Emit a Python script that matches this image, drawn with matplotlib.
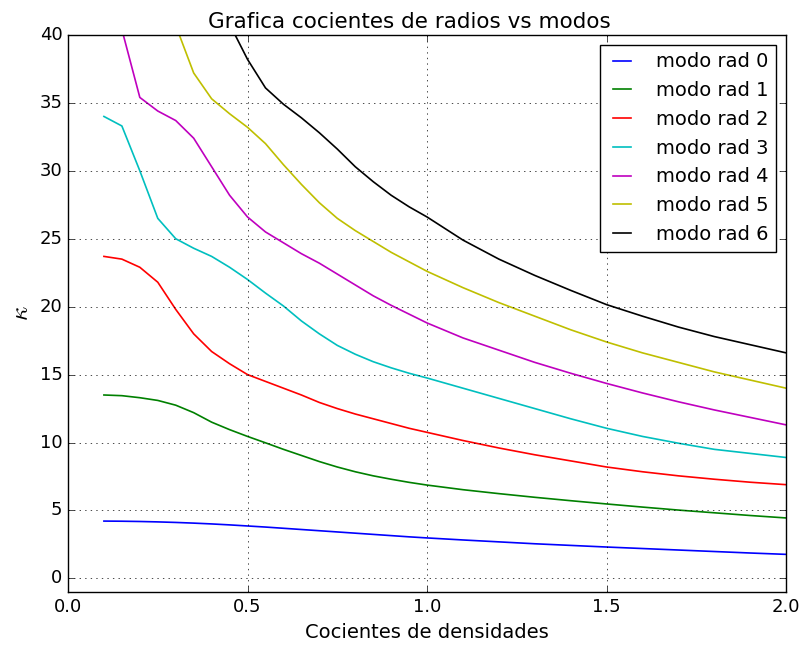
import numpy as np
import matplotlib
matplotlib.use("Agg")
import matplotlib.pyplot as plt

plt.style.use("classic")

# densidad relativa (eje x), comun a todos los modos
cocientes = [0.10, 0.15, 0.20, 0.25, 0.30, 0.35, 0.40, 0.45, 0.50, 0.55,
             0.60, 0.65, 0.70, 0.75, 0.80, 0.85, 0.90, 0.95, 1.00,
             1.10, 1.20, 1.30, 1.40, 1.50, 1.60, 1.70, 1.80, 1.90, 2.00]

nan = np.nan
modo0 = [4.22, 4.21, 4.19, 4.16, 4.12, 4.07, 4.01, 3.94, 3.86, 3.78,
         3.69, 3.60, 3.51, 3.42, 3.33, 3.24, 3.15, 3.06, 2.98,
         2.83, 2.69, 2.55, 2.43, 2.31, 2.20, 2.09, 1.98, 1.87, 1.77]
modo1 = [13.5, 13.45, 13.3, 13.1, 12.75, 12.2, 11.5, 10.95, 10.45, 9.98,
         9.5, 9.05, 8.6, 8.2, 7.85, 7.55, 7.3, 7.07, 6.87,
         6.53, 6.24, 5.97, 5.72, 5.48, 5.25, 5.03, 4.83, 4.63, 4.45]
modo2 = [23.7, 23.5, 22.9, 21.8, 19.8, 18.0, 16.7, 15.8, 15.0, 14.5,
         14.0, 13.5, 12.95, 12.5, 12.1, 11.75, 11.4, 11.05, 10.75,
         10.15, 9.6, 9.1, 8.65, 8.2, 7.85, 7.55, 7.3, 7.08, 6.9]
modo3 = [34.0, 33.3, 30.0, 26.5, 25.0, 24.3, 23.7, 22.9, 22.0, 21.0,
         20.05, 18.95, 18.0, 17.15, 16.5, 15.95, 15.5, 15.1, 14.75,
         14.0, 13.25, 12.5, 11.75, 11.05, 10.45, 9.95, 9.5, 9.2, 8.9]
modo4 = [nan, 40.4, 35.4, 34.4, 33.7, 32.4, 30.3, 28.2, 26.6, 25.5,
         24.7, 23.9, 23.2, 22.4, 21.6, 20.8, 20.1, 19.45, 18.8,
         17.7, 16.8, 15.9, 15.1, 14.35, 13.65, 13.0, 12.4, 11.85, 11.3]
modo5 = [nan, nan, nan, nan, 40.7, 37.2, 35.3, 34.2, 33.2, 32.0,
         30.45, 29.0, 27.65, 26.5, 25.6, 24.8, 24.0, 23.3, 22.6,
         21.4, 20.3, 19.3, 18.3, 17.4, 16.6, 15.9, 15.2, 14.6, 14.0]
modo6 = [nan, nan, nan, nan, nan, nan, nan, 40.8, 38.2, 36.1,
         34.9, 33.9, 32.8, 31.6, 30.3, 29.2, 28.2, 27.35, 26.6,
         24.9, 23.5, 22.3, 21.2, 20.15, 19.3, 18.5, 17.8, 17.2, 16.6]

modos = [modo0, modo1, modo2, modo3, modo4, modo5, modo6]
colores = ['b', 'g', 'r', 'c', 'm', 'y', 'k']

fig = plt.figure(figsize=(8.03, 6.47), dpi=100, facecolor='white')
ax = fig.add_axes([0.0847, 0.085, 0.8943, 0.861])

for i, (kappa, c) in enumerate(zip(modos, colores)):
    ax.plot(cocientes, kappa, color=c, lw=1.2, label="modo rad %d" % i)

ax.set_xlim(0, 2.0)
ax.set_ylim(-1, 40)
ax.set_xticks([0.0, 0.5, 1.0, 1.5, 2.0])
ax.set_yticks(range(0, 41, 5))
ax.tick_params(labelsize=13)
ax.grid(True)
ax.set_title("Grafica cocientes de radios vs modos", fontsize=15.5, x=0.476)
ax.set_xlabel("Cocientes de densidades", fontsize=14)
ax.set_ylabel(r"$\kappa$", fontsize=18, labelpad=5)
leg = ax.legend(loc='upper right', fontsize=14, handlelength=1.5,
                handletextpad=1.0)

fig.savefig("out.png", dpi=100, facecolor='white')
